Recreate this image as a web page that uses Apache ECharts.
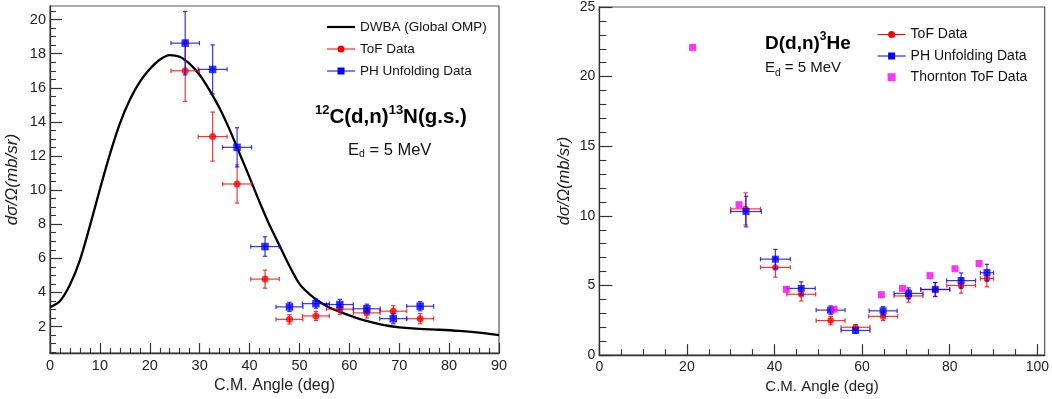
<!DOCTYPE html>
<html><head><meta charset="utf-8">
<script src="https://cdn.jsdelivr.net/npm/echarts@6/dist/echarts.min.js"></script>
<style>html,body{margin:0;padding:0;background:#fff;}#c{width:1052px;height:399px;}</style>
</head><body><div id="c"></div>
<script>
// ---------- Left panel: 12C(d,n)13N(g.s.) ----------
const dwbaX = [0, 2, 4, 6, 8, 10, 12, 14, 16, 18, 20, 22, 24, 26, 28, 30, 32, 34, 36, 38, 40, 42, 44, 46, 48, 50, 52, 54, 56, 58, 60, 62, 64, 66, 68, 70, 74, 78, 82, 86, 88, 90];
const dwbaY = [3.13, 3.5, 4.45, 5.9, 7.9, 10.05, 12.1, 13.9, 15.3, 16.35, 17.1, 17.65, 17.92, 17.82, 17.4, 16.75, 15.85, 14.8, 13.55, 12.15, 10.75, 9.3, 7.95, 6.75, 5.55, 4.5, 3.9, 3.45, 3.12, 2.87, 2.65, 2.45, 2.28, 2.14, 2.03, 1.95, 1.86, 1.81, 1.74, 1.64, 1.57, 1.5];

const cTofX    = [27.1, 32.6, 37.5, 43.1, 48.0, 53.3, 58.1, 63.5, 68.8, 74.2];
const cTofY    = [17.0, 13.14, 10.36, 4.78, 2.42, 2.62, 3.02, 2.8, 2.9, 2.46];
const cTofXErr = [2.85, 2.9, 2.9, 2.85, 2.7, 2.7, 2.7, 2.7, 2.7, 2.7];
const cTofYErr = [1.8, 1.44, 1.12, 0.53, 0.27, 0.27, 0.3, 0.3, 0.32, 0.3];

const cPhX    = [27.1, 32.6, 37.5, 43.1, 48.0, 53.3, 58.1, 63.5, 68.8, 74.2];
const cPhY    = [18.62, 17.08, 12.51, 6.69, 3.15, 3.34, 3.29, 3.04, 2.46, 3.19];
const cPhXErr = [2.85, 2.9, 2.9, 2.85, 2.7, 2.7, 2.7, 2.7, 2.7, 2.7];
const cPhYErr = [1.86, 1.44, 1.15, 0.57, 0.27, 0.27, 0.3, 0.27, 0.3, 0.27];

// ---------- Right panel: D(d,n)3He ----------
const dTofX    = [33.4, 40.2, 46.1, 52.8, 58.5, 64.8, 70.6, 76.7, 82.6, 88.5];
const dTofY    = [10.5, 6.3, 4.37, 2.48, 2.0, 2.78, 4.25, 4.7, 5.0, 5.5];
const dTofXErr = [3.4, 3.4, 3.3, 3.3, 3.3, 3.3, 3.3, 3.3, 3.3, 1.5];
const dTofYErr = [1.15, 0.7, 0.48, 0.3, 0.2, 0.3, 0.45, 0.5, 0.55, 0.6];

const dPhX    = [33.5, 40.2, 46.1, 52.8, 58.5, 64.8, 70.6, 76.7, 82.6, 88.5];
const dPhY    = [10.31, 6.89, 4.79, 3.23, 1.77, 3.18, 4.43, 4.72, 5.35, 5.92];
const dPhXErr = [3.5, 3.4, 3.2, 3.3, 3.3, 3.2, 3.3, 3.3, 3.3, 1.5];
const dPhYErr = [1.1, 0.7, 0.47, 0.3, 0.2, 0.3, 0.4, 0.5, 0.55, 0.6];

const thX = [21.3, 31.9, 42.7, 53.6, 64.4, 69.2, 75.5, 81.2, 86.7];
const thY = [22.1, 10.8, 4.72, 3.3, 4.34, 4.79, 5.71, 6.2, 6.58];

// ---------- Tick values ----------
const lxMajor = [0, 10, 20, 30, 40, 50, 60, 70, 80, 90];
const lxMinor = [2, 4, 6, 8, 12, 14, 16, 18, 22, 24, 26, 28, 32, 34, 36, 38, 42, 44, 46, 48, 52, 54, 56, 58, 62, 64, 66, 68, 72, 74, 76, 78, 82, 84, 86, 88];
const lyMajor = [2, 4, 6, 8, 10, 12, 14, 16, 18, 20];
const lyMinor = [0.5, 1, 1.5, 2.5, 3, 3.5, 4.5, 5, 5.5, 6.5, 7, 7.5, 8.5, 9, 9.5, 10.5, 11, 11.5, 12.5, 13, 13.5, 14.5, 15, 15.5, 16.5, 17, 17.5, 18.5, 19, 19.5, 20.5];
const rxMajor = [0, 20, 40, 60, 80, 100];
const rxMinor = [5, 10, 15, 25, 30, 35, 45, 50, 55, 65, 70, 75, 85, 90, 95];
const ryMajor = [0, 5, 10, 15, 20, 25];
const ryMinor = [1, 2, 3, 4, 6, 7, 8, 9, 11, 12, 13, 14, 16, 17, 18, 19, 21, 22, 23, 24];

const FONT = "'Liberation Sans', Arial, Helvetica, sans-serif";
const AX = '#333';

function rows(xs, ys, xe, ye) { return xs.map((x, i) => [x, ys[i], xe[i], ye[i]]); }
function pts(xs, ys) { return xs.map((x, i) => [x, ys[i]]); }

function errRender(params, api) {
  const x = api.value(0), y = api.value(1), xe = api.value(2), ye = api.value(3);
  const c = api.coord([x, y]);
  const l = api.coord([x - xe, y]), r = api.coord([x + xe, y]);
  const t = api.coord([x, y + ye]), b = api.coord([x, y - ye]);
  const color = api.visual('color');
  const st = { stroke: color, lineWidth: 1.2, opacity: 0.8 };
  const cap = 2.2;
  return {
    type: 'group', children: [
      { type: 'line', shape: { x1: l[0], y1: c[1], x2: r[0], y2: c[1] }, style: st },
      { type: 'line', shape: { x1: c[0], y1: t[1], x2: c[0], y2: b[1] }, style: st },
      { type: 'line', shape: { x1: l[0], y1: c[1] - cap, x2: l[0], y2: c[1] + cap }, style: st },
      { type: 'line', shape: { x1: r[0], y1: c[1] - cap, x2: r[0], y2: c[1] + cap }, style: st },
      { type: 'line', shape: { x1: c[0] - cap, y1: t[1], x2: c[0] + cap, y2: t[1] }, style: st },
      { type: 'line', shape: { x1: c[0] - cap, y1: b[1], x2: c[0] + cap, y2: b[1] }, style: st }
    ]
  };
}

function mainX(gi, min, max, ticks, len, fs, nfs, gap) {
  return {
    type: 'value', gridIndex: gi, min, max, position: 'bottom',
    axisLine: { show: true, onZero: false, lineStyle: { color: AX, width: 1.3 } },
    axisTick: { show: true, inside: true, length: len, customValues: ticks, lineStyle: { color: AX, width: 1.2 } },
    axisLabel: { show: true, customValues: ticks, margin: 5, fontSize: fs, color: '#222', fontFamily: FONT },
    splitLine: { show: false },
    name: 'C.M. Angle (deg)', nameLocation: 'middle', nameGap: gap,
    nameTextStyle: { fontSize: nfs, color: '#222', fontFamily: FONT }
  };
}
function mainY(gi, min, max, ticks, len, fs, nfs, gap) {
  return {
    type: 'value', gridIndex: gi, min, max, position: 'left',
    axisLine: { show: true, onZero: false, lineStyle: { color: AX, width: 1.3 } },
    axisTick: { show: true, inside: true, length: len, customValues: ticks, lineStyle: { color: AX, width: 1.2 } },
    axisLabel: { show: true, customValues: ticks, margin: 4, fontSize: fs, color: '#222', fontFamily: FONT },
    splitLine: { show: false },
    name: 'dσ/Ω(mb/sr)', nameLocation: 'middle', nameGap: gap, nameRotate: 90,
    nameTextStyle: { fontSize: nfs, color: '#222', fontFamily: FONT, fontStyle: 'italic' }
  };
}
function minorAx(gi, min, max, ticks, len, pos) {
  return {
    type: 'value', gridIndex: gi, min, max, position: pos,
    axisLine: { show: false, onZero: false },
    axisTick: { show: true, inside: true, length: len, customValues: ticks, lineStyle: { color: AX, width: 1.1 } },
    axisLabel: { show: false }, splitLine: { show: false }
  };
}

const chart = echarts.init(document.getElementById('c'));
const RED = '#ff0000', BLUE = '#0000ff', MAG = '#ff00ff';
const iconLine = 'path://M0,3h28v2.2h-28z';
const iconCirc = 'path://M0,3.5h28v1h-28z M17.5,4a3.5,3.5 0 1 1 -7,0a3.5,3.5 0 1 1 7,0z';
const iconSq = 'path://M0,3.5h28v1h-28z M10.5,0.5h7v7h-7z';
const iconSqOnly = 'path://M0,0h7v7h-7z';

chart.setOption({
  animation: false,
  backgroundColor: '#fff',
  grid: [
    { left: 50, top: 6, width: 449, height: 353.3, show: true, borderColor: '#555', borderWidth: 1.2, containLabel: false },
    { left: 599.3, top: 6.7, width: 447.4, height: 353.3, show: true, borderColor: '#555', borderWidth: 1.2, containLabel: false }
  ],
  xAxis: [
    mainX(0, 0, 90, lxMajor, 10, 14.5, 16, 20),
    minorAx(0, 0, 90, lxMinor, 5, 'bottom'),
    mainX(1, 0, 101.68, rxMajor, 11, 14, 15, 19),
    minorAx(1, 0, 101.68, rxMinor, 6, 'bottom')
  ],
  yAxis: [
    mainY(0, 0.44, 20.8, lyMajor, 12, 14.5, 17, 29),
    minorAx(0, 0.44, 20.8, lyMinor, 6, 'left'),
    mainY(1, 0, 25, ryMajor, 13, 14, 16.5, 26),
    minorAx(1, 0, 25, ryMinor, 7, 'left')
  ],
  title: [
    { left: 315, top: 104, padding: 0,
      text: '{s|12}{b|C(d,n)}{s|13}{b|N(g.s.)}',
      textStyle: { rich: {
        b: { fontSize: 20.5, fontWeight: 'bold', fontFamily: FONT, color: '#000', lineHeight: 26 },
        s: { fontSize: 13, fontWeight: 'bold', fontFamily: FONT, color: '#000', lineHeight: 13, verticalAlign: 'top' } } } },
    { left: 348, top: 140, padding: 0,
      text: '{m|E}{d|d}{m| = 5 MeV}',
      textStyle: { fontWeight: 'normal', rich: {
        m: { fontSize: 16.5, fontWeight: 'normal', fontFamily: FONT, color: '#111', lineHeight: 20 },
        d: { fontSize: 10.5, fontWeight: 'normal', fontFamily: FONT, color: '#111', lineHeight: 10, verticalAlign: 'bottom' } } } },
    { left: 765, top: 30.4, padding: 0,
      text: '{b|D(d,n)}{s|3}{b|He}',
      textStyle: { rich: {
        b: { fontSize: 19, fontWeight: 'bold', fontFamily: FONT, color: '#000', lineHeight: 26 },
        s: { fontSize: 12, fontWeight: 'bold', fontFamily: FONT, color: '#000', lineHeight: 12, verticalAlign: 'top' } } } },
    { left: 765, top: 58, padding: 0,
      text: '{m|E}{d|d}{m| = 5 MeV}',
      textStyle: { fontWeight: 'normal', rich: {
        m: { fontSize: 15, fontWeight: 'normal', fontFamily: FONT, color: '#111', lineHeight: 20 },
        d: { fontSize: 10, fontWeight: 'normal', fontFamily: FONT, color: '#111', lineHeight: 10, verticalAlign: 'bottom' } } } }
  ],
  legend: [
    { left: 327, top: 19, orient: 'vertical', padding: 0, itemWidth: 28, itemHeight: 8, itemGap: 6,
      selectedMode: false,
      textStyle: { fontSize: 13.5, fontFamily: FONT, color: '#111', lineHeight: 16 },
      data: [
        { name: 'DWBA (Global OMP)', icon: iconLine, itemStyle: { color: '#000', borderWidth: 0 } },
        { name: 'ToF Data', icon: iconCirc, itemStyle: { color: RED, borderWidth: 0 } },
        { name: 'PH Unfolding Data', icon: iconSq, itemStyle: { color: BLUE, borderWidth: 0 } }
      ] },
    { left: 877.6, top: 26.6, orient: 'vertical', padding: 0, itemWidth: 28, itemHeight: 8, itemGap: 5.3,
      selectedMode: false,
      textStyle: { fontSize: 14, fontFamily: FONT, color: '#111', lineHeight: 16 },
      data: [
        { name: 'ToF Data', icon: iconCirc, itemStyle: { color: RED, borderWidth: 0 } },
        { name: 'PH Unfolding Data', icon: iconSq, itemStyle: { color: BLUE, borderWidth: 0 } },
        { name: 'Thornton ToF Data', icon: iconSqOnly, itemStyle: { color: MAG, borderWidth: 0 } }
      ] }
  ],
  series: [
    { name: 'DWBA (Global OMP)', type: 'line', xAxisIndex: 0, yAxisIndex: 0, data: pts(dwbaX, dwbaY),
      smooth: 0.3, symbol: 'none', lineStyle: { color: '#000', width: 2.3 }, itemStyle: { color: '#000' }, z: 2 },
    { name: 'ToF Data', type: 'custom', xAxisIndex: 0, yAxisIndex: 0, data: rows(cTofX, cTofY, cTofXErr, cTofYErr),
      encode: { x: 0, y: 1 }, renderItem: errRender, itemStyle: { color: RED }, clip: true, z: 3 },
    { name: 'ToF Data', type: 'scatter', xAxisIndex: 0, yAxisIndex: 0, data: pts(cTofX, cTofY),
      symbol: 'circle', symbolSize: 7, itemStyle: { color: RED }, z: 4 },
    { name: 'PH Unfolding Data', type: 'custom', xAxisIndex: 0, yAxisIndex: 0, data: rows(cPhX, cPhY, cPhXErr, cPhYErr),
      encode: { x: 0, y: 1 }, renderItem: errRender, itemStyle: { color: BLUE }, clip: true, z: 5 },
    { name: 'PH Unfolding Data', type: 'scatter', xAxisIndex: 0, yAxisIndex: 0, data: pts(cPhX, cPhY),
      symbol: 'rect', symbolSize: 7.5, itemStyle: { color: BLUE }, z: 6 },

    { name: 'ToF Data', type: 'custom', xAxisIndex: 2, yAxisIndex: 2, data: rows(dTofX, dTofY, dTofXErr, dTofYErr),
      encode: { x: 0, y: 1 }, renderItem: errRender, itemStyle: { color: RED }, clip: true, z: 3 },
    { name: 'ToF Data', type: 'scatter', xAxisIndex: 2, yAxisIndex: 2, data: pts(dTofX, dTofY),
      symbol: 'circle', symbolSize: 6.5, itemStyle: { color: RED }, z: 4 },
    { name: 'PH Unfolding Data', type: 'custom', xAxisIndex: 2, yAxisIndex: 2, data: rows(dPhX, dPhY, dPhXErr, dPhYErr),
      encode: { x: 0, y: 1 }, renderItem: errRender, itemStyle: { color: BLUE }, clip: true, z: 5 },
    { name: 'PH Unfolding Data', type: 'scatter', xAxisIndex: 2, yAxisIndex: 2, data: pts(dPhX, dPhY),
      symbol: 'rect', symbolSize: 7, itemStyle: { color: BLUE }, z: 6 },
    { name: 'Thornton ToF Data', type: 'scatter', xAxisIndex: 2, yAxisIndex: 2, data: pts(thX, thY),
      symbol: 'rect', symbolSize: 7, itemStyle: { color: MAG }, z: 7 }
  ]
});
</script>
</body></html>
